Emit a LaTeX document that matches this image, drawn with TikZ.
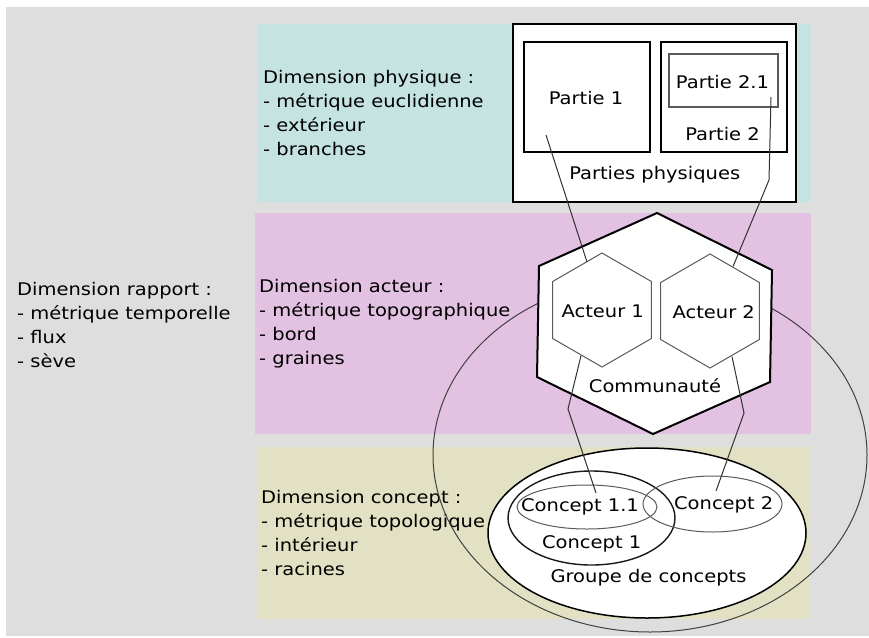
\documentclass[tikz,border=0pt]{standalone}
\usepackage{fontspec}
\setmainfont{DejaVu Sans}[FakeStretch=1.12]
\usepackage{xcolor}
\usepackage{tikz}
\usetikzlibrary{shapes.geometric}
\definecolor{fond}{RGB}{222,222,222}
\definecolor{bandephys}{RGB}{196,227,225}
\definecolor{bandeact}{RGB}{226,193,226}
\definecolor{bandeconc}{RGB}{226,225,195}
\definecolor{grisfin}{RGB}{90,90,90}
\definecolor{grislien}{RGB}{50,50,50}
\tikzstyle{dimtexte} = [anchor=north west, align=left, inner sep=0pt]
\tikzstyle{etiquette} = [anchor=base, inner sep=0pt]
\tikzstyle{cadre} = [rectangle, draw=black, line width=2pt, fill=white, inner sep=0pt]
\tikzstyle{souscadre} = [rectangle, draw=grisfin, line width=1.2pt, inner sep=0pt]
\tikzstyle{lien} = [draw=grislien, line width=1pt]
\tikzset{
  groupe/.style={
    ellipse,
    draw=black,
    line width=1.5pt,
    fill=white,
    inner sep=0pt
    },
  conceptun/.style={
    ellipse,
    draw=black!90,
    line width=1.4pt,
    inner sep=0pt
    },
  conceptfin/.style={
    ellipse,
    draw=grisfin,
    line width=1pt,
    inner sep=0pt
    },
  rapport/.style={
    ellipse,
    draw=black!75,
    line width=1pt,
    inner sep=0pt
    },
  communaute/.style={draw=black, line width=2pt, fill=white, line join=miter},
  acteurhex/.style={draw=grisfin, line width=1pt},
}

\begin{document}
\begin{tikzpicture}[
  x=1pt, y=-1pt,
  every node/.style={font=\fontsize{17.4}{24}\selectfont}
  ]
\useasboundingbox (0,0) rectangle (869,637);
\fill[white] (0,0) rectangle (869,637);
\fill[fond] (6,7) rectangle (869,636);
% bandes
\fill[bandephys] (258,24) rectangle (811,202);
\fill[bandeact] (255,213) rectangle (811,434);
\fill[bandeconc] (257,447) rectangle (810,619);

\node (dphys) [dimtexte] at (263,70) {Dimension physique :\\- métrique euclidienne\\- extérieur\\- branches};
\node (dact) [dimtexte] at (259,279) {Dimension acteur :\\- métrique topographique\\- bord\\- graines};
\node (dconc) [dimtexte] at (261,490) {Dimension concept :\\- métrique topologique\\- intérieur\\- racines};
\node (drap) [dimtexte] at (17,282) {Dimension rapport :\\- métrique temporelle\\- flux\\- sève};

% parties physiques
\node (physiques) [cadre, minimum width=283pt, minimum height=178pt] at (654.5,113) {};
\node (partie1) [cadre, minimum width=126pt, minimum height=110pt] at (587,97) {};
\node (partie2) [cadre, minimum width=126pt, minimum height=110pt] at (724,97) {};
\node (partie21) [souscadre, minimum width=109pt, minimum height=53pt] at (723.5,80.5) {};
\node (lp1) [etiquette] at (586,104) {Partie 1};
\node (lp21) [etiquette] at (722.5,88.3) {Partie 2.1};
\node (lp2) [etiquette] at (722.5,140) {Partie 2};
\node (lphys) [etiquette] at (654.7,179) {Parties physiques};

% concepts
\node (grp) [groupe, minimum width=318pt, minimum height=170pt] at (647,533) {};
\node (c1) [conceptun, minimum width=167pt, minimum height=94pt] at (591.5,518) {};
\node (c11) [conceptfin, minimum width=140pt, minimum height=44pt] at (587,507) {};
\node (c2) [conceptfin, minimum width=139pt, minimum height=56pt] at (712.5,504) {};
\node (rap) [rapport, minimum width=434pt, minimum height=354pt] at (650,455) {};

% acteurs
\draw[communaute] (657,213) -- (772,270) -- (770,382) -- (653,434) -- (537,377) -- (539,266) -- cycle;
\node (a1) [etiquette] at (602.7,317.3) {Acteur 1};
\node (a2) [etiquette] at (713.7,318.3) {Acteur 2};
\node (comm) [etiquette] at (655,392.7) {Communauté};
\coordinate (h1) at (602,310);
\coordinate (h2) at (710,311);
\draw[acteurhex] (h1) +(90:57) -- +(30:57) -- +(-30:57) -- +(-90:57) -- +(-150:57) -- +(150:57) -- cycle;
\draw[acteurhex] (h2) +(90:57) -- +(30:57) -- +(-30:57) -- +(-90:57) -- +(-150:57) -- +(150:57) -- cycle;

\node (lc11) [etiquette] at (580,511.7) {Concept 1.1};
\node (lc2) [etiquette] at (723.7,509) {Concept 2};
\node (lc1) [etiquette] at (591.7,548.3) {Concept 1};
\node (lgrp) [etiquette] at (648.5,582.7) {Groupe de concepts};

% liens
\path (partie1.center) ++(-41,38) coordinate (p1bas);
\path (partie21.center) ++(47.5,16.5) coordinate (p21bas);
\coordinate (coude2) at (769,180);
\coordinate (a1haut) at (587,262);
\coordinate (a2haut) at (733,266.5);
\coordinate (a1bas) at (581,355.7);
\coordinate (a2bas) at (732,356.6);
\coordinate (coude3) at (568,409);
\coordinate (coude4) at (744,413);
\path (c11.center) ++(9,-14) coordinate (c11haut);
\path (c2.center) ++(3.5,-13) coordinate (c2haut);

\draw[lien] (p1bas) -- (a1haut);
\draw[lien] (p21bas) -- (coude2) -- (a2haut);
\draw[lien] (a1bas) -- (coude3) -- (c11haut);
\draw[lien] (a2bas) -- (coude4) -- (c2haut);

\end{tikzpicture}
\end{document}
